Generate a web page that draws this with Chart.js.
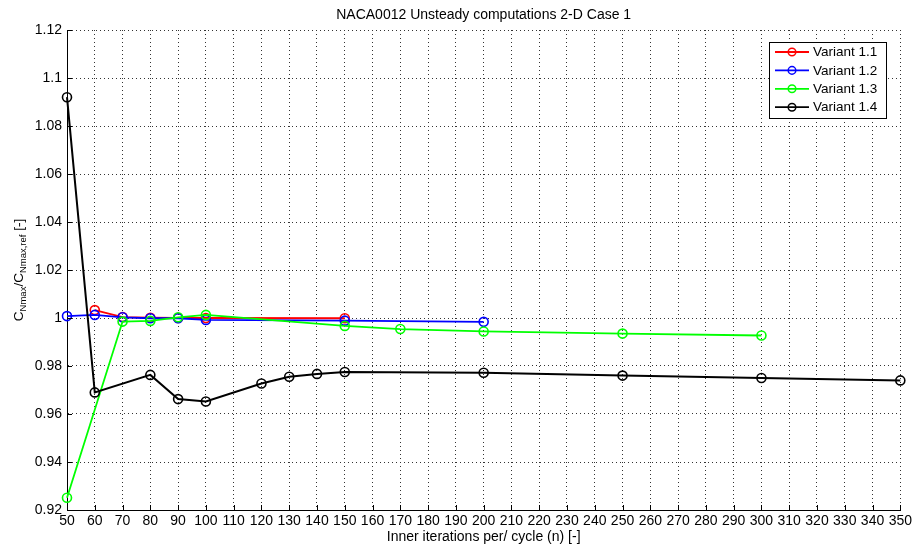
<!DOCTYPE html>
<html>
<head>
<meta charset="utf-8">
<script src="https://cdn.jsdelivr.net/npm/chart.js@4.4.0/dist/chart.umd.min.js"></script>
<style>
  body { margin: 0; background: #fff; }
  #wrap { width: 915px; height: 550px; position: relative; }
</style>
</head>
<body>
<div id="wrap"><canvas id="myChart"></canvas></div>
<script>
'use strict';

// Data
var chartTitle = 'NACA0012 Unsteady computations 2-D Case 1';
var xTitle = 'Inner iterations per/ cycle (n) [-]';

var iter11 = [60, 70, 80, 90, 100, 150];
var vals11 = [1.0033, 1.0004, 1.0001, 1.0000, 1.0000, 0.9999];

var iter12 = [50, 60, 70, 80, 90, 100, 150, 200];
var vals12 = [1.0008, 1.0013, 1.0003, 0.9999, 0.9999, 0.9992, 0.9989, 0.9984];

var iter13 = [50, 70, 80, 90, 100, 150, 170, 200, 250, 300];
var vals13 = [0.9251, 0.9985, 0.9988, 1.0003, 1.0013, 0.9967, 0.9954, 0.9944, 0.9935, 0.9927];

var iter14 = [50, 60, 80, 90, 100, 120, 130, 140, 150, 200, 250, 300, 350];
var vals14 = [1.0920, 0.9690, 0.9763, 0.9662, 0.9652, 0.9727, 0.9755, 0.9767, 0.9775, 0.9772, 0.9760, 0.9750, 0.9740];

var seriesNames = ['Variant 1.1', 'Variant 1.2', 'Variant 1.3', 'Variant 1.4'];
var seriesColors = ['#ff0000', '#0000ff', '#00ff00', '#000000'];

var yTickLabels = ['0.92', '0.94', '0.96', '0.98', '1', '1.02', '1.04', '1.06', '1.08', '1.1', '1.12'];

var FONT = "'Liberation Sans', Arial, sans-serif";

function toPoints(xs, ys) {
  var pts = [];
  for (var i = 0; i < xs.length; i++) {
    pts.push({x: xs[i], y: ys[i]});
  }
  return pts;
}

function makeSet(idx, xs, ys) {
  return {
    label: seriesNames[idx],
    data: toPoints(xs, ys),
    borderColor: seriesColors[idx],
    backgroundColor: seriesColors[idx],
    borderWidth: idx === 3 ? 2 : 1.8,
    pointRadius: 4.5,
    pointBorderWidth: 1.6,
    pointBackgroundColor: 'rgba(0,0,0,0)',
    pointBorderColor: seriesColors[idx],
    tension: 0,
    clip: false,
    order: 4 - idx
  };
}

// MATLAB-ish extras: title, y label with subscripts, inward ticks, legend box
var matlabBits = {
  id: 'matlabBits',
  afterDraw: function(chart) {
    var ctx = chart.ctx;
    var area = chart.chartArea;
    var xs = chart.scales.x;
    var ys = chart.scales.y;
    ctx.save();

    // inward tick marks
    ctx.strokeStyle = '#000';
    ctx.lineWidth = 1;
    ctx.beginPath();
    xs.ticks.forEach(function(t) {
      var px = Math.round(xs.getPixelForValue(t.value)) + 0.5;
      ctx.moveTo(px, area.bottom);
      ctx.lineTo(px, area.bottom - 5);
    });
    ys.ticks.forEach(function(t) {
      var py = Math.round(ys.getPixelForValue(t.value)) + 0.5;
      ctx.moveTo(area.left, py);
      ctx.lineTo(area.left + 5, py);
    });
    ctx.stroke();

    // title
    ctx.fillStyle = '#000';
    ctx.font = '14px ' + FONT;
    ctx.textAlign = 'center';
    ctx.textBaseline = 'middle';
    ctx.fillText(chartTitle, (area.left + area.right) / 2, 15);

    // y label  C_Nmax / C_Nmax,ref [-]
    var parts = [
      {t: 'C', sub: false}, {t: 'Nmax', sub: true},
      {t: '/C', sub: false}, {t: 'Nmax,ref', sub: true},
      {t: ' [-]', sub: false}
    ];
    var total = 0;
    parts.forEach(function(p) {
      ctx.font = (p.sub ? '9.5px ' : '13.5px ') + FONT;
      p.w = ctx.measureText(p.t).width;
      total += p.w;
    });
    ctx.translate(19, (area.top + area.bottom) / 2);
    ctx.rotate(-Math.PI / 2);
    ctx.textAlign = 'left';
    ctx.textBaseline = 'alphabetic';
    var cx = -total / 2;
    parts.forEach(function(p) {
      ctx.font = (p.sub ? '9.5px ' : '13.5px ') + FONT;
      ctx.fillText(p.t, cx, p.sub ? 7 : 4);
      cx += p.w;
    });
    ctx.setTransform(1, 0, 0, 1, 0, 0);

    // legend box
    var bx = 769, by = 42, bw = 117, bh = 76;
    ctx.fillStyle = '#fff';
    ctx.fillRect(bx, by, bw, bh);
    ctx.strokeStyle = '#000';
    ctx.lineWidth = 1;
    ctx.strokeRect(bx + 0.5, by + 0.5, bw, bh);
    ctx.font = '13.5px ' + FONT;
    ctx.textBaseline = 'middle';
    for (var i = 0; i < seriesNames.length; i++) {
      var ry = 52 + i * 18.4;
      ctx.strokeStyle = seriesColors[i];
      ctx.lineWidth = 1.8;
      ctx.beginPath();
      ctx.moveTo(775, ry);
      ctx.lineTo(809, ry);
      ctx.stroke();
      ctx.lineWidth = 1.5;
      ctx.beginPath();
      ctx.arc(792, ry, 3.8, 0, Math.PI * 2);
      ctx.stroke();
      ctx.fillStyle = '#000';
      ctx.fillText(seriesNames[i], 813, ry + 0.5);
    }
    ctx.restore();
  }
};

var ctx = document.getElementById('myChart').getContext('2d');
var chart = new Chart(ctx, {
  type: 'line',
  data: {
    datasets: [
      makeSet(0, iter11, vals11),
      makeSet(1, iter12, vals12),
      makeSet(2, iter13, vals13),
      makeSet(3, iter14, vals14)
    ]
  },
  options: {
    responsive: true,
    maintainAspectRatio: false,
    animation: false,
    layout: { padding: { top: 30, right: 12, left: 0, bottom: 0 } },
    plugins: {
      legend: { display: false },
      title: { display: false },
      tooltip: { enabled: false }
    },
    scales: {
      x: {
        type: 'linear',
        min: 50,
        max: 350,
        afterFit: function(s) { s.height = 40; },
        ticks: {
          stepSize: 10,
          autoSkip: false,
          maxRotation: 0,
          padding: 3,
          color: '#000',
          font: { family: FONT, size: 14 }
        },
        grid: { color: '#333', lineWidth: 1, drawTicks: false },
        border: { display: true, color: '#000', width: 1, dash: [1, 3] },
        title: {
          display: true,
          text: xTitle,
          color: '#000',
          font: { family: FONT, size: 14 },
          padding: { top: 0, bottom: 4.5 }
        }
      },
      y: {
        type: 'linear',
        min: 0.92,
        max: 1.12,
        afterFit: function(s) { s.width = 67; },
        ticks: {
          stepSize: 0.02,
          padding: 5,
          color: '#000',
          font: { family: FONT, size: 14 },
          callback: function(value, index) { return yTickLabels[index]; }
        },
        grid: { color: '#333', lineWidth: 1, drawTicks: false },
        border: { display: true, color: '#000', width: 1, dash: [1, 3] }
      }
    }
  },
  plugins: [matlabBits]
});
</script>
</body>
</html>
